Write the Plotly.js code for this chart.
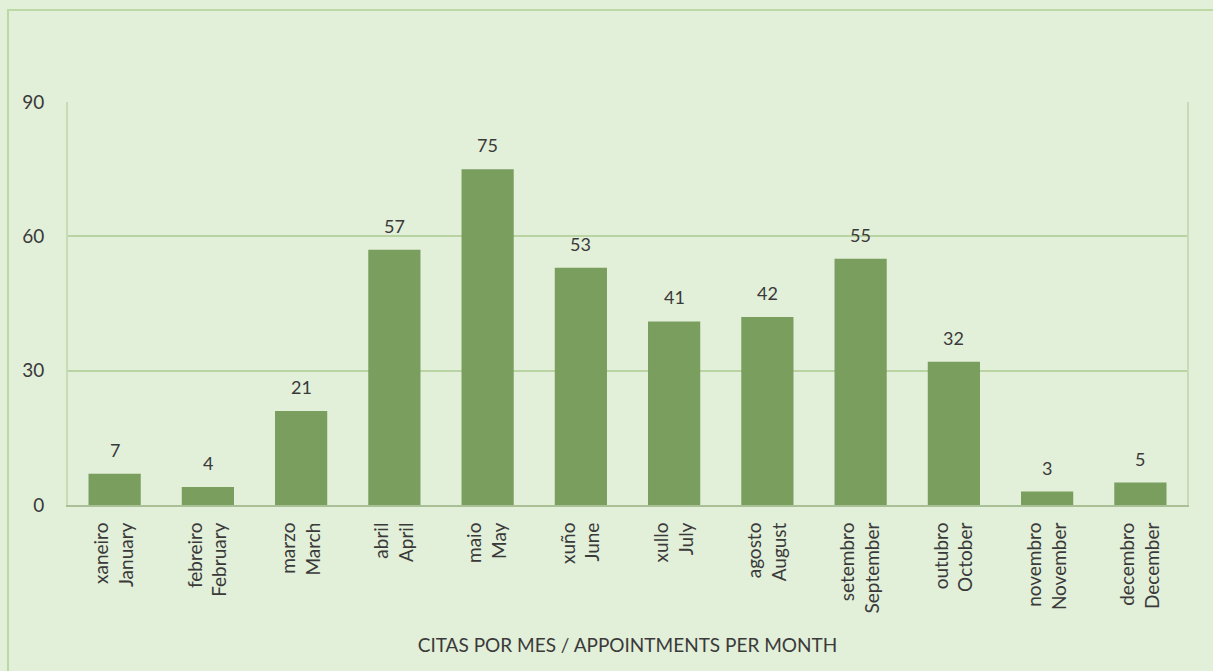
<!DOCTYPE html>
<html>
<head>
<meta charset="utf-8">
<script src="https://cdn.plot.ly/plotly-3.0.1.min.js"></script>
<style>
  html, body { margin: 0; padding: 0; background: #e2efd9; }
  #wrap { position: relative; width: 1213px; height: 671px; overflow: hidden; }
  #chart { width: 1213px; height: 671px; }
  #frame { position: absolute; left: 7px; top: 9px; width: 1220px; height: 700px;
           border-left: 2px solid #bcd8a4; border-top: 2px solid #bcd8a4; pointer-events: none; }
</style>
</head>
<body>
<div id="wrap">
  <div id="chart"></div>
  <div id="frame"></div>
</div>
<script>
const monthsGL = ["xaneiro", "febreiro", "marzo", "abril", "maio", "xuño", "xullo", "agosto", "setembro", "outubro", "novembro", "decembro"];
const monthsEN = ["January", "February", "March", "April", "May", "June", "July", "August", "September", "October", "November", "December"];
const appointments = [7, 4, 21, 57, 75, 53, 41, 42, 55, 32, 3, 5];
const yTicks = [0, 30, 60, 90];

const categories = monthsGL.map((g, i) => g + "<br>" + monthsEN[i]);
const fontFam = "Lato, 'Open Sans', 'Liberation Sans', sans-serif";
const txtCol = "#3a3a3a";

const trace = {
  type: "bar",
  x: categories,
  y: appointments,
  marker: { color: "#7a9e5e" },
  hoverinfo: "x+y"
};

const labels = categories.map((c, i) => ({
  x: c,
  y: appointments[i],
  xref: "x",
  yref: "y",
  text: String(appointments[i]),
  showarrow: false,
  yanchor: "bottom",
  yshift: 11,
  font: { family: fontFam, size: 18, color: txtCol }
}));

const layout = {
  width: 1213,
  height: 671,
  margin: { l: 68, r: 26, t: 102, b: 166 },
  paper_bgcolor: "#e2efd9",
  plot_bgcolor: "#e2efd9",
  bargap: 0.44,
  showlegend: false,
  font: { family: fontFam, size: 19, color: txtCol },
  annotations: labels,
  xaxis: {
    type: "category",
    tickangle: -90,
    tickfont: { family: fontFam, size: 19, color: txtCol },
    ticklabelstandoff: 8,
    showline: true,
    linecolor: "#a9bf95",
    linewidth: 2,
    ticks: "",
    title: { text: "CITAS POR MES / APPOINTMENTS PER MONTH", font: { family: fontFam, size: 19, color: txtCol }, standoff: 26 },
    automargin: false
  },
  yaxis: {
    range: [0, 90],
    tickvals: yTicks,
    ticktext: yTicks.map(String),
    showgrid: true,
    gridcolor: "#b9d3a2",
    gridwidth: 2,
    zeroline: false,
    showline: true,
    linecolor: "#c7dcb4",
    linewidth: 2,
    mirror: true,
    ticks: "",
    ticklabelstandoff: 18,
    tickfont: { family: fontFam, size: 19, color: txtCol },
    automargin: false
  }
};

Plotly.newPlot("chart", [trace], layout, { displayModeBar: false, staticPlot: true });
</script>
</body>
</html>
